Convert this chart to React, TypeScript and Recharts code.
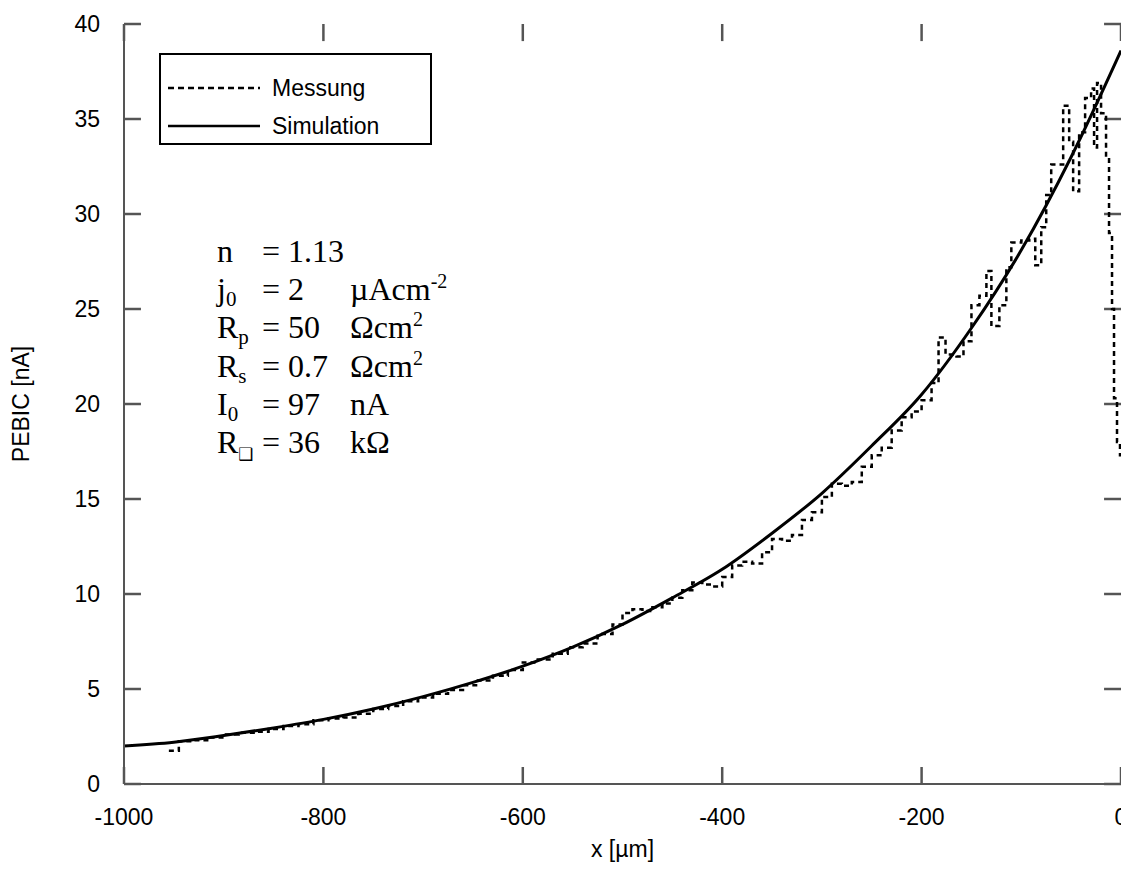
import React from "react";
import { LineChart, Line, XAxis, YAxis, Legend, Label, ReferenceLine } from "recharts";

// Simulation curve, read every 50 µm
const simX = [-1000, -950, -900, -850, -800, -750, -700, -650, -600, -550, -500, -450, -400, -350, -300, -250, -200, -150, -100, -50, 0];
const simY = [2.0, 2.2, 2.55, 2.95, 3.4, 3.95, 4.6, 5.35, 6.2, 7.2, 8.4, 9.8, 11.3, 13.2, 15.3, 17.8, 20.5, 24.0, 28.1, 33.0, 38.6];

// Measured profile (step-like)
const measX = [
  -955, -945, -930, -915, -900, -885, -870, -855, -840, -825, -810, -795, -780, -765, -750, -735, -720, -705, -690, -675,
  -660, -645, -630, -615, -600, -585, -570, -555, -540, -525, -510, -500, -490, -480, -470, -460, -450, -440, -430, -420,
  -410, -400, -390, -380, -370, -360, -350, -340, -330, -320, -310, -300, -290, -280, -270, -260, -250, -240, -230, -220,
  -210, -200, -190, -183, -176, -165, -158, -150, -142, -135, -130, -122, -115, -110, -100, -92, -86, -80, -75, -70,
  -58, -52, -48, -42, -36, -30, -27, -24, -20, -15, -12, -9, -7, -4, -1, 0,
];
const measY = [
  1.75, 2.25, 2.3, 2.45, 2.6, 2.7, 2.75, 2.9, 3.05, 3.15, 3.35, 3.45, 3.5, 3.7, 3.95, 4.1, 4.35, 4.55, 4.75, 4.95,
  5.2, 5.45, 5.7, 6.0, 6.4, 6.55, 6.85, 7.2, 7.4, 7.9, 8.4, 9.0, 9.2, 9.1, 9.3, 9.5, 9.8, 10.2, 10.6, 10.5,
  10.4, 10.9, 11.5, 11.7, 11.6, 12.2, 12.9, 12.8, 13.1, 13.9, 14.3, 15.1, 15.8, 15.7, 15.9, 16.7, 17.3, 17.7, 18.6, 19.3,
  19.6, 20.2, 21.1, 23.5, 22.6, 22.5, 23.3, 25.2, 25.7, 27.0, 24.1, 25.2, 27.2, 28.5, 28.6, 28.7, 27.3, 29.3, 31.0, 32.6,
  35.7, 33.8, 31.2, 34.3, 36.1, 36.6, 33.5, 36.9, 35.3, 33.0, 29.0, 25.0, 20.3, 18.0, 17.3, 17.3,
];

const xTicks = [-1000, -800, -600, -400, -200, 0];
const yTicks = [0, 5, 10, 15, 20, 25, 30, 35, 40];

// fit parameters shown in the plot
const paramNames = ["n", "j", "R", "R", "I", "R"];
const paramSubs = ["", "0", "p", "s", "0", "\u2751"];
const paramValues = ["1.13", "2", "50", "0.7", "97", "36"];
const paramUnits = ["", "\u00b5Acm", "\u03a9cm", "\u03a9cm", "nA", "k\u03a9"];
const paramSups = ["", "-2", "2", "2", "", ""];

const simData = simX.map((x, i) => ({ x, y: simY[i] }));
const measData = measX.map((x, i) => ({ x, y: measY[i] }));

const AXIS = "#555";
const SANS = "Arial, 'Liberation Sans', sans-serif";
const SERIF = "'Times New Roman', 'Liberation Serif', serif";
const TICK = 17;
// inward tick length for the other three sides, in data units
const TICK_X = 17;
const TICK_Y = 0.9;

const BottomTick = ({ x, y, payload }: any) => (
  <g>
    <line x1={x} x2={x} y1={y} y2={y - TICK} stroke={AXIS} strokeWidth={2.5} />
    <text x={x} y={y + 33} textAnchor="middle" dominantBaseline="central" fontFamily={SANS} fontSize={23} fill="#000">
      {payload.value}
    </text>
  </g>
);
const LeftTick = ({ x, y, payload }: any) => (
  <text x={x - 24} y={y} textAnchor="end" dominantBaseline="central" fontFamily={SANS} fontSize={23} fill="#000">
    {payload.value}
  </text>
);

const renderLegend = (props: any) => {
  const rows = [33, 71];
  return (
    <div
      style={{
        border: "2px solid #000",
        width: 273,
        height: 92,
        boxSizing: "border-box",
        background: "#fff",
        position: "relative",
        fontFamily: SANS,
        fontSize: 23,
        color: "#000",
      }}
    >
      {(props.payload || []).map((e: any, i: number) => (
        <div key={e.value} style={{ position: "absolute", left: 7, top: rows[i] - 14, height: 28, display: "flex", alignItems: "center" }}>
          <svg width={92} height={4}>
            <line x1={0} x2={92} y1={2} y2={2} stroke="#000" strokeWidth={2.5} strokeDasharray={e.value === "Messung" ? "6 4" : undefined} />
          </svg>
          <span style={{ marginLeft: 12, lineHeight: "28px" }}>{e.value}</span>
        </div>
      ))}
    </div>
  );
};

const rowY = [254, 292, 330, 369, 407, 445];

export default function App() {
  const refTick = { stroke: AXIS, strokeWidth: 2.5, ifOverflow: "visible" as const, xAxisId: "b", yAxisId: "l" };
  return (
    <div style={{ position: "relative", width: 1121, height: 857, background: "#fff" }}>
      <LineChart width={1121} height={857} margin={{ top: 16, right: 8, left: 0, bottom: 0 }}>
        <XAxis
          xAxisId="b"
          dataKey="x"
          type="number"
          domain={[-1000, 0]}
          ticks={xTicks}
          height={81}
          tickSize={0}
          tickMargin={0}
          tickLine={false}
          axisLine={{ stroke: AXIS, strokeWidth: 2 }}
          tick={<BottomTick />}
          interval={0}
          allowDataOverflow
        >
          <Label value="x [µm]" position="insideBottom" offset={8} style={{ fontFamily: SANS, fontSize: 23, fill: "#000" }} />
        </XAxis>
        <XAxis
          xAxisId="t"
          orientation="top"
          dataKey="x"
          type="number"
          domain={[-1000, 0]}
          height={0}
          tick={false}
          tickLine={false}
          axisLine={{ stroke: AXIS, strokeWidth: 2 }}
        />
        <YAxis
          yAxisId="l"
          type="number"
          domain={[0, 40]}
          ticks={yTicks}
          width={116}
          tickSize={0}
          tickMargin={0}
          tickLine={false}
          axisLine={{ stroke: AXIS, strokeWidth: 2 }}
          tick={<LeftTick />}
          interval={0}
        >
          <Label
            value="PEBIC [nA]"
            angle={-90}
            position="insideLeft"
            offset={13}
            style={{ textAnchor: "middle", fontFamily: SANS, fontSize: 23, fill: "#000" }}
          />
        </YAxis>
        <YAxis
          yAxisId="r"
          orientation="right"
          type="number"
          domain={[0, 40]}
          width={0}
          tick={false}
          tickLine={false}
          axisLine={{ stroke: AXIS, strokeWidth: 2 }}
        />
        <Legend
          layout="horizontal"
          verticalAlign="middle"
          align="center"
          content={renderLegend}
          wrapperStyle={{ left: 151, top: 45, width: 273, height: 92 }}
        />
        {xTicks.map((t) => (
          <ReferenceLine key={"t" + t} {...refTick} segment={[{ x: t, y: 40 }, { x: t, y: 40 - TICK_Y }]} />
        ))}
        {yTicks.map((t) => (
          <ReferenceLine key={"r" + t} {...refTick} segment={[{ x: 0, y: t }, { x: -TICK_X, y: t }]} />
        ))}
        {yTicks.map((t) => (
          <ReferenceLine key={"l" + t} {...refTick} segment={[{ x: -1000, y: t }, { x: -1000 + TICK_X, y: t }]} />
        ))}
        <Line
          xAxisId="b"
          yAxisId="l"
          data={measData}
          dataKey="y"
          name="Messung"
          type="stepAfter"
          stroke="#000"
          strokeWidth={2.5}
          strokeDasharray="5 4"
          dot={false}
          isAnimationActive={false}
        />
        <Line
          xAxisId="b"
          yAxisId="l"
          data={simData}
          dataKey="y"
          name="Simulation"
          type="monotone"
          stroke="#000"
          strokeWidth={3}
          dot={false}
          isAnimationActive={false}
        />
      </LineChart>
      <svg width={1121} height={857} style={{ position: "absolute", left: 0, top: 0, pointerEvents: "none" }}>
        {rowY.map((y, i) => (
          <g key={i} fontFamily={SERIF} fontSize={32} fill="#000">
            <text x={209} y={y}>
              {paramNames[i]}
              {paramSubs[i] && (
                <tspan dy={i === 5 ? 7 : 6} fontSize={i === 5 ? 17 : 21} fontFamily={i === 5 ? "'DejaVu Sans', sans-serif" : SERIF}>
                  {paramSubs[i]}
                </tspan>
              )}
            </text>
            <text x={254} y={y}>{"= " + paramValues[i]}</text>
            <text x={342} y={y}>
              {paramUnits[i]}
              {paramSups[i] && (
                <tspan dy={-12} fontSize={20}>
                  {paramSups[i]}
                </tspan>
              )}
            </text>
          </g>
        ))}
      </svg>
    </div>
  );
}
